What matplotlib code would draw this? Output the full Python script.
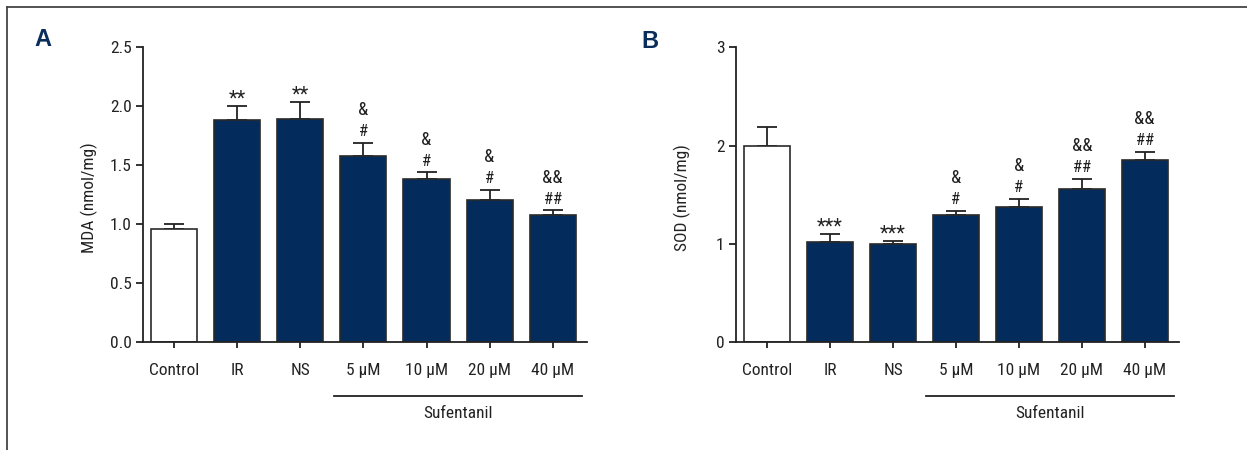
import numpy as np
import matplotlib.pyplot as plt
from matplotlib.lines import Line2D
import matplotlib.transforms as mtransforms

plt.rcParams['font.family'] = ['Roboto Condensed', 'Liberation Sans Narrow', 'Lato', 'DejaVu Sans']

groups = ["Control", "IR", "NS", "5 µM", "10 µM", "20 µM", "40 µM"]

mda_mean = [0.96, 1.88, 1.89, 1.58, 1.38, 1.21, 1.08]
mda_err = [0.04, 0.12, 0.15, 0.11, 0.06, 0.08, 0.04]
mda_stars = ["", "**", "**", "", "", "", ""]
mda_hash = ["", "", "", "#", "#", "#", "##"]
mda_amp = ["", "", "", "&", "&", "&", "&&"]

sod_mean = [2.00, 1.02, 1.00, 1.29, 1.38, 1.56, 1.85]
sod_err = [0.19, 0.08, 0.03, 0.05, 0.08, 0.10, 0.09]
sod_stars = ["", "***", "***", "", "", "", ""]
sod_hash = ["", "", "", "#", "#", "##", "##"]
sod_amp = ["", "", "", "&", "&", "&&", "&&"]

navy = '#032b5c'
ink = '#222222'
W, H = 1247, 450
fs = 12.5

fig = plt.figure(figsize=(W / 100, H / 100), dpi=100)

# thin frame along top and left edge
fig.add_artist(Line2D([7 / W, 1], [1 - 7 / H, 1 - 7 / H], transform=fig.transFigure,
                      color='#444444', lw=1.3))
fig.add_artist(Line2D([7 / W, 7 / W], [0, 1 - 7 / H], transform=fig.transFigure,
                      color='#444444', lw=1.3))


def panel(rect, mean, err, stars, hashes, amps, ymax, yticks, yticklabels, ylabel, letter, letter_xy):
    ax = fig.add_axes(rect)
    x = np.arange(len(groups))
    colors = ['white'] + [navy] * (len(groups) - 1)
    ax.bar(x, mean, width=0.73, color=colors, edgecolor='#2a2a2a', linewidth=1.2, zorder=2)
    ax.errorbar(x, mean, yerr=[np.zeros(len(mean)), err], fmt='none', ecolor=ink,
                elinewidth=1.3, capsize=7.5, capthick=1.3, zorder=1)

    ax.set_xlim(-0.5, 6.54)
    ax.set_ylim(0, ymax)
    ax.set_xticks(x)
    ax.set_xticklabels(groups)
    ax.set_yticks(yticks)
    ax.set_yticklabels(yticklabels)
    for s in ['top', 'right']:
        ax.spines[s].set_visible(False)
    for s in ['left', 'bottom']:
        ax.spines[s].set_color(ink)
        ax.spines[s].set_linewidth(1.3)
    ax.tick_params(axis='x', length=4, width=1.3, color=ink, pad=11,
                   labelsize=fs, labelcolor=ink)
    ax.tick_params(axis='y', length=5, width=1.3, color=ink, pad=3,
                   labelsize=fs, labelcolor=ink)

    ax.set_ylabel(ylabel, fontsize=fs, color=ink, va='center')
    ax.yaxis.set_label_coords(-0.121, 0.49)

    # significance marks above the error bars
    tops = np.array(mean) + np.array(err)
    for i, t in enumerate(tops):
        if stars[i]:
            ax.annotate(stars[i], (i, t), xytext=(0, 5), textcoords='offset points',
                        ha='center', va='center', fontsize=14.5, color=ink)
        if hashes[i]:
            ax.annotate(hashes[i], (i, t), xytext=(0, 8), textcoords='offset points',
                        ha='center', va='center', fontsize=12, color=ink)
        if amps[i]:
            ax.annotate(amps[i], (i, t), xytext=(0, 23.5), textcoords='offset points',
                        ha='center', va='center', fontsize=13.5, color=ink)

    # bracket under the sufentanil doses
    trans = mtransforms.blended_transform_factory(ax.transData, ax.transAxes)
    ax.plot([3 - 0.47, 6 + 0.46], [-0.181, -0.181], transform=trans, color=ink,
            lw=1.3, clip_on=False)
    ax.text(4.5, -0.243, "Sufentanil", transform=trans, ha='center', va='center',
            fontsize=fs, color=ink)

    fig.text(letter_xy[0] / W, 1 - letter_xy[1] / H, letter, fontsize=17,
             fontweight='bold', color='#0b2d5b', family='Liberation Sans',
             ha='center', va='center')
    return ax


panel([142.7 / W, 1 - 342.3 / H, 444 / W, 295 / H], mda_mean, mda_err,
      mda_stars, mda_hash, mda_amp, 2.5, [0, 0.5, 1.0, 1.5, 2.0, 2.5],
      ["0.0", "0.5", "1.0", "1.5", "2.0", "2.5"], "MDA (nmol/mg)", "A", (43, 40))

panel([735.7 / W, 1 - 342.3 / H, 443 / W, 295 / H], sod_mean, sod_err,
      sod_stars, sod_hash, sod_amp, 3, [0, 1, 2, 3],
      ["0", "1", "2", "3"], "SOD (nmol/mg)", "B", (650, 42))

fig.savefig("out.png", dpi=100)
